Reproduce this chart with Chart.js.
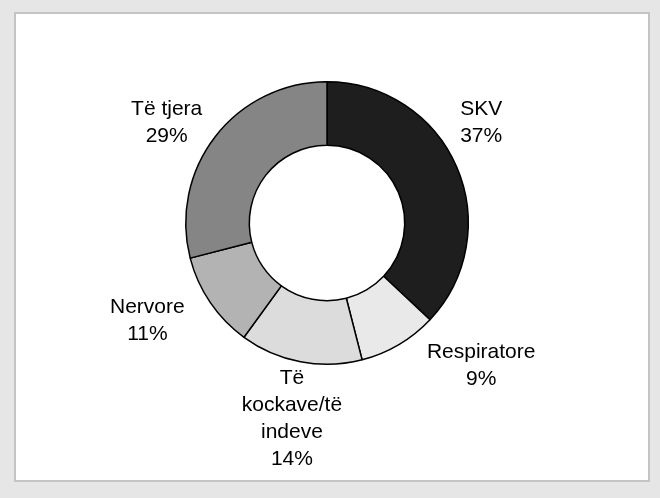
<!DOCTYPE html>
<html>
<head>
<meta charset="utf-8">
<script src="https://cdn.jsdelivr.net/npm/chart.js@4/dist/chart.umd.min.js"></script>
<style>
  html, body { margin: 0; padding: 0; background: #e6e6e6; }
  #wrap { position: relative; width: 660px; height: 498px; }
  #panel { position: absolute; left: 14px; top: 12px; width: 632px; height: 466px;
           background: #ffffff; border: 2px solid #c4c4c4; }
  #c { position: absolute; left: 0; top: 0; }
</style>
</head>
<body>
<div id="wrap">
  <div id="panel"></div>
  <canvas id="c" width="660" height="498"></canvas>
</div>
<script>
// ---- data ----
const categories = ["SKV", "Respiratore", ["Të", "kockave/të", "indeve"], "Nervore", "Të tjera"];
const shares = [37, 9, 14, 11, 29];
const sliceColors = ["#1e1e1e", "#e9e9e9", "#dcdcdc", "#b3b3b3", "#858585"];

// label placement tweaks relative to the slice mid-angle anchor (px)
const labelNudge = [[-3, -32], [67, -5], [-3, 27], [-38, 1], [-25, 5]];

const outsideLabels = {
  id: 'outsideLabels',
  afterDatasetsDraw(chart) {
    const ctx = chart.ctx;
    const meta = chart.getDatasetMeta(0);
    const total = shares.reduce((a, b) => a + b, 0);
    ctx.save();
    ctx.font = '21px "Liberation Sans", Arial, sans-serif';
    ctx.fillStyle = '#000000';
    ctx.textAlign = 'center';
    ctx.textBaseline = 'middle';
    const lh = 27;
    meta.data.forEach((arc, i) => {
      const p = arc.getProps(['x', 'y', 'startAngle', 'endAngle', 'outerRadius'], true);
      const mid = (p.startAngle + p.endAngle) / 2;
      const d = p.outerRadius + 30;
      const ax = p.x + Math.cos(mid) * d + labelNudge[i][0];
      const ay = p.y + Math.sin(mid) * d + labelNudge[i][1];
      const name = categories[i];
      const lines = (Array.isArray(name) ? name.slice() : [name]);
      lines.push(Math.round(shares[i] / total * 100) + '%');
      const y0 = ay - (lines.length - 1) * lh / 2;
      lines.forEach((t, k) => ctx.fillText(t, ax, y0 + k * lh));
    });
    ctx.restore();
  }
};

new Chart(document.getElementById('c'), {
  type: 'doughnut',
  data: {
    labels: categories,
    datasets: [{
      data: shares,
      backgroundColor: sliceColors,
      borderColor: '#000000',
      borderWidth: 1.5,
      borderAlign: 'center',
      hoverOffset: 0
    }]
  },
  options: {
    responsive: false,
    animation: false,
    cutout: '55%',
    rotation: 0,
    layout: { padding: { left: 185, right: 191, top: 81, bottom: 133 } },
    plugins: {
      legend: { display: false },
      tooltip: { enabled: false }
    }
  },
  plugins: [outsideLabels]
});
</script>
</body>
</html>
